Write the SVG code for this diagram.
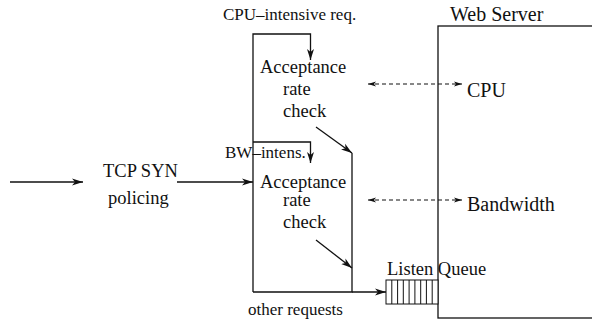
<svg xmlns="http://www.w3.org/2000/svg" width="592" height="321" viewBox="0 0 592 321">
  <style>
    .lbl { font-size: 18.5px; }
    .sm { font-size: 17px; }
    .big { font-size: 20px; }
    .ln { fill: none; stroke: #111; stroke-width: 1.3; }
    .dash { fill: none; stroke: #111; stroke-width: 1.1; stroke-dasharray: 4 3; }
    .q { fill: #fff; stroke: #111; stroke-width: 1; }
  </style>
  <defs>
    <marker id="arr" markerUnits="userSpaceOnUse" markerWidth="12" markerHeight="8" refX="11" refY="4" orient="auto">
      <path d="M0,0.5 L11,4 L0,7.5 L3,4 z" fill="#111"/>
    </marker>
    <marker id="arrS" markerUnits="userSpaceOnUse" markerWidth="9" markerHeight="6" refX="8" refY="3" orient="auto-start-reverse">
      <path d="M0,0.5 L8,3 L0,5.5 L2,3 z" fill="#111"/>
    </marker>
  </defs>

  <g font-family="Liberation Serif, Times New Roman, DejaVu Serif, serif" fill="#111">
    <!-- web server -->
    <g id="web-server">
      <rect x="438" y="26" width="200" height="292" class="ln"/>
      <text x="450" y="21" class="big">Web Server</text>
      <text x="467" y="97" class="big">CPU</text>
      <text x="467" y="211" class="big">Bandwidth</text>
    </g>

    <!-- listen queue -->
    <g id="listen-queue">
      <rect x="386" y="280" width="52" height="24" class="q"/>
      <path class="ln" style="stroke-width:1" d="M391.8,280V304M397.6,280V304M403.3,280V304M409.1,280V304M414.9,280V304M420.7,280V304M426.4,280V304M432.2,280V304"/>
      <text x="387" y="275" class="lbl">Listen Queue</text>
    </g>

    <!-- SYN policing -->
    <g id="syn-policing">
      <text x="103" y="177" class="lbl">TCP SYN</text>
      <text x="108" y="204" class="lbl">policing</text>
    </g>

    <!-- CPU-intensive check -->
    <g id="cpu-check">
      <text x="260" y="72.5" class="lbl">Acceptance</text>
      <text x="283" y="95" class="lbl">rate</text>
      <text x="283" y="117" class="lbl">check</text>
      <text x="223" y="20" class="sm">CPU–intensive req.</text>
    </g>

    <!-- bandwidth-intensive check -->
    <g id="bw-check">
      <text x="260" y="188" class="lbl">Acceptance</text>
      <text x="283" y="206" class="lbl">rate</text>
      <text x="283" y="228" class="lbl">check</text>
      <text x="225" y="158" class="sm">BW–intens.</text>
    </g>

    <g id="other-requests">
      <text x="248" y="315" class="sm">other requests</text>
    </g>
  </g>

  <!-- connectors -->
  <g id="connectors">
    <line x1="10" y1="182" x2="83" y2="182" class="ln" marker-end="url(#arr)"/>
    <line x1="177" y1="182" x2="253" y2="182" class="ln" marker-end="url(#arr)"/>
    <!-- request split paths -->
    <path d="M253,292V34H310.5V60" class="ln" marker-end="url(#arr)"/>
    <path d="M253,142H310.5V163" class="ln" marker-end="url(#arr)"/>
    <path d="M352,153V292H253" class="ln"/>
    <line x1="352" y1="292" x2="386" y2="292" class="ln" marker-end="url(#arr)"/>
    <line x1="316" y1="127" x2="352" y2="153" class="ln" marker-end="url(#arr)"/>
    <line x1="316" y1="240" x2="352" y2="268" class="ln" marker-end="url(#arr)"/>
    <!-- resource feedback -->
    <line x1="368" y1="84" x2="462" y2="84" class="dash" marker-start="url(#arrS)" marker-end="url(#arrS)"/>
    <line x1="368" y1="200" x2="462" y2="200" class="dash" marker-start="url(#arrS)" marker-end="url(#arrS)"/>
  </g>
</svg>
